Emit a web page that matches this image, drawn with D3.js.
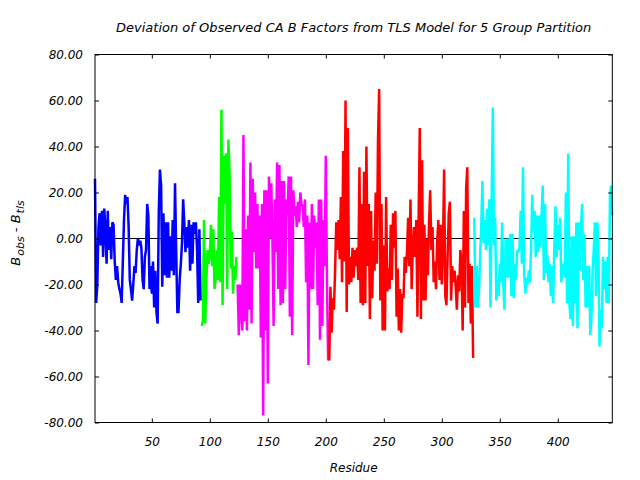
<!DOCTYPE html>
<html><head><meta charset="utf-8">
<script src="https://cdn.jsdelivr.net/npm/d3@7"></script>
<style>
body{margin:0;background:#fff;}
text{font-family:"DejaVu Sans",sans-serif;font-style:italic;}
</style></head>
<body><svg id="c" width="640" height="480"></svg>
<script>
const xTicks=[50,100,150,200,250,300,350,400];
const yTicks=[-80,-60,-40,-20,0,20,40,60,80];
const titleText="Deviation of Observed CA B Factors from TLS Model for 5 Group Partition";
const xLabel="Residue";

const blueStart=1;
const blueVals=[26,-28,-20,5,11,-3,12,-8,13,4,-11,12,-5,5,-9,7,6,-10,-18,-12,-19,-22,-24,-28,-10,8,19,15,18,5,-18,-22,-27,-20,-12,-15,-5,0,-3,-1,-4,-18,-22,-8,-5,15,10,-22,-12,-24,-10,-30,-14,-32,-37,12,30,23,-21,11,-16,7,-17,7,-17,1,-14,8,-16,24,-5,-32,-32,-18,-11,-2,17,7,-6,5,-4,8,-14,6,-11,7,2,7,-5,-28,4,-27];
const greenStart=93;
const greenVals=[-38,-36,8,-37,-19,-5,-11,-7,6,-12,4,-22,-18,-5,-18,18,-19,56,-29,36,15,37,-22,43,29,-13,3,-24,-12,-18,-8];
const magentaStart=124;
const magentaVals=[-20,-42,-20,-31,-40,45,-36,4,-40,10,-31,33,-37,26,-6,20,-13,15,-13,10,-43,15,-77,21,-40,21,-63,27,0,24,-2,-38,17,-6,33,-22,32,-29,25,-28,25,-22,17,10,27,-34,27,-42,21,10,14,5,16,7,20,15,14,5,17,-19,10,-55,7,-22,15,-22,10,-4,7,-29,17,-44,17,-38,8,-12,36,-19,-53,-35];
const redStart=203;
const redVals=[-53,-21,-41,-26,-31,-14,7,-5,8,-9,18,-19,38,-10,60,-32,48,-20,-8,-19,-4,-17,-5,-12,-4,-18,31,-28,15,-29,29,-28,40,-12,15,-35,12,-26,-1,-14,20,-11,43,65,-27,15,-40,-3,-40,18,-23,-13,-22,6,-18,11,-4,12,-34,-13,-40,-22,-41,-24,-26,-8,-15,-6,9,-12,17,-22,-4,5,-8,8,-34,8,48,-35,34,-27,6,-27,0,-16,7,21,-5,5,-19,-10,-22,-2,8,-18,6,-20,-4,30,-25,-29,-8,11,16,-27,-12,-19,-14,-21,-31,-16,-23,-5,-11,-40,12,-30,22,31,-28,-11,-37,-12,-52];
const cyanStart=328;
const cyanVals=[9,-30,-12,-30,-24,-8,5,25,-2,8,-5,13,-3,17,-30,18,57,-3,9,-27,-18,-25,-11,-19,7,-20,-31,0,-17,0,-17,2,-25,2,-26,-11,-18,-5,-6,-4,12,-11,31,-15,-24,-17,-20,-14,-19,-4,19,3,12,-8,10,-6,10,-4,10,23,-18,15,-15,-7,-19,-11,-25,-12,-28,-4,14,-8,6,-5,9,-19,-13,-11,-17,20,-28,37,-28,-35,1,-38,1,-28,7,-39,7,-14,5,15,-18,2,-30,-12,-30,-12,-42,-35,-14,-5,7,-25,7,-3,-47,-31,-39,-8,-22,-10,-28,-8,-28,19,23,10];

const groups=[
 {start:blueStart,vals:blueVals,color:"#0000ff"},
 {start:greenStart,vals:greenVals,color:"#00ff00"},
 {start:magentaStart,vals:magentaVals,color:"#ff00ff"},
 {start:redStart,vals:redVals,color:"#ff0000"},
 {start:cyanStart,vals:cyanVals,color:"#00ffff"}
];

const L=95,R=612.3,T=54.5,B=422.5;
const svg=d3.select("#c");
const x=d3.scaleLinear().domain([1,447]).range([L,R]);
const y=d3.scaleLinear().domain([-80,80]).range([B,T]);

svg.append("line").attr("x1",L).attr("x2",R).attr("y1",y(0)).attr("y2",y(0))
  .attr("stroke","#000").attr("stroke-width",1);

const line=d3.line().x(d=>x(d[0])).y(d=>y(d[1]));
groups.forEach(g=>{
  const pts=g.vals.map((v,i)=>[g.start+i,v]);
  svg.append("path").attr("d",line(pts)).attr("fill","none")
    .attr("stroke",g.color).attr("stroke-width",2.5).attr("stroke-linejoin","miter").attr("stroke-miterlimit",2);
});

const fmtY=d=>d.toFixed(2);
const gB=svg.append("g").attr("transform",`translate(0,${B})`)
  .call(d3.axisBottom(x).tickValues(xTicks).tickSize(-4).tickPadding(15));
const gT=svg.append("g").attr("transform",`translate(0,${T})`)
  .call(d3.axisTop(x).tickValues(xTicks).tickSize(-4).tickFormat(""));
const gL=svg.append("g").attr("transform",`translate(${L},0)`)
  .call(d3.axisLeft(y).tickValues(yTicks).tickSize(-4).tickPadding(12).tickFormat(fmtY));
const gR=svg.append("g").attr("transform",`translate(${R},0)`)
  .call(d3.axisRight(y).tickValues(yTicks).tickSize(-4).tickFormat(""));
[gB,gT,gL,gR].forEach(g=>{
  g.select(".domain").remove();
  g.selectAll("line").attr("stroke","#000");
  g.selectAll("text").attr("font-size",12).attr("fill","#000")
   .attr("font-family","DejaVu Sans").attr("font-style","italic");
});
svg.append("rect").attr("x",L).attr("y",T).attr("width",R-L).attr("height",B-T)
  .attr("fill","none").attr("stroke","#000").attr("stroke-width",1);

svg.append("text").attr("x",(L+R)/2).attr("y",32).attr("text-anchor","middle")
  .attr("font-size",13).text(titleText);
svg.append("text").attr("x",(L+R)/2).attr("y",472).attr("text-anchor","middle")
  .attr("font-size",12).text(xLabel);
const yl=svg.append("text").attr("transform","translate(20,233) rotate(-90)")
  .attr("text-anchor","middle").attr("font-size",13);
yl.append("tspan").text("B");
yl.append("tspan").attr("font-size",11).attr("dy",4).attr("dx",1).text("obs");
yl.append("tspan").attr("dy",-4).text("  -  B");
yl.append("tspan").attr("font-size",11).attr("dy",4).attr("dx",1).text("tls");
</script></body></html>
